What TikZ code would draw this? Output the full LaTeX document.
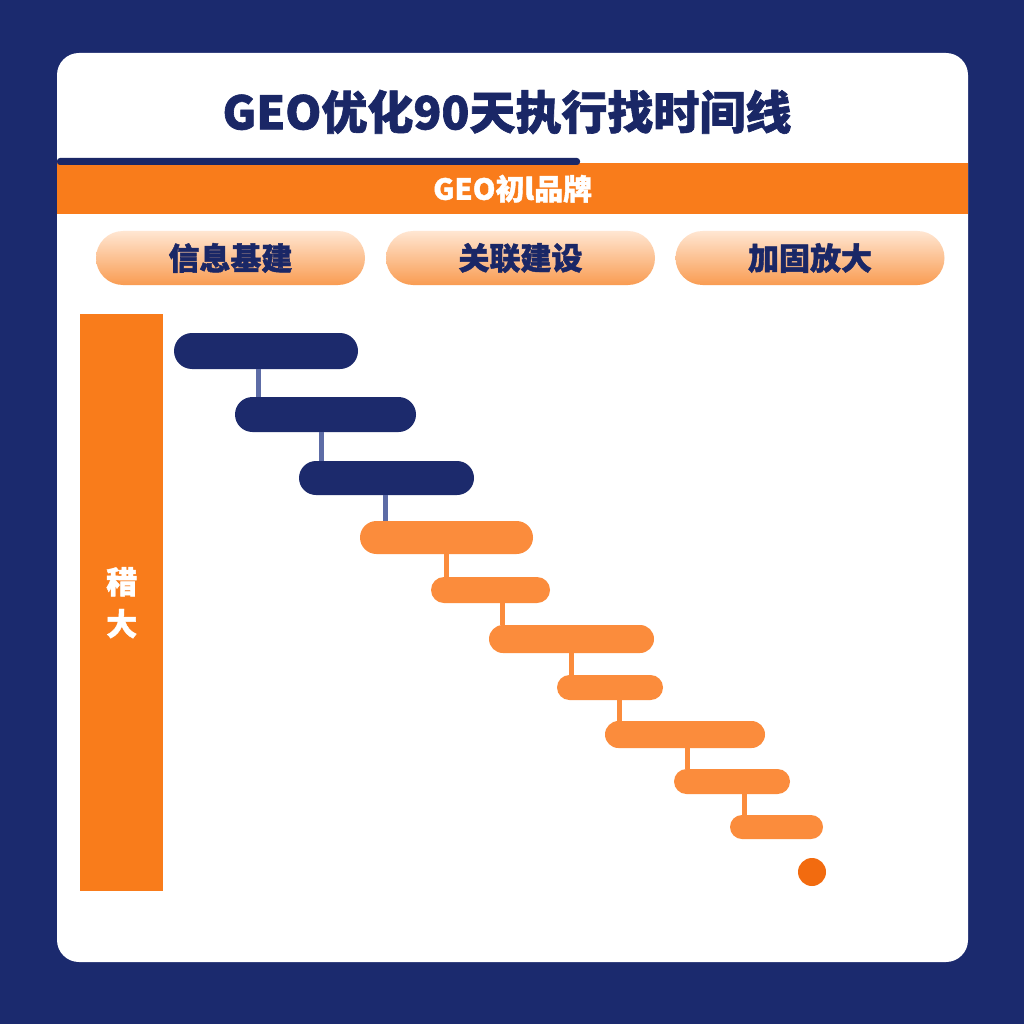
\documentclass[tikz,border=0pt]{standalone}
\usepackage{fontspec}
\newfontfamily\cjk{Noto Sans CJK SC}
\newfontfamily\cjkh{Noto Sans CJK SC}[BoldFeatures={FakeBold=1.4}]
\usetikzlibrary{shapes.misc,calc}
\definecolor{bgnavy}{HTML}{1B2A6E}
\definecolor{navy}{HTML}{1A2766}
\definecolor{barnavy}{HTML}{1C2A6C}
\definecolor{conblue}{HTML}{5D6CA6}
\definecolor{bannerorange}{HTML}{F97C1B}
\definecolor{barorange}{HTML}{FB8C3C}
\definecolor{dotorange}{HTML}{F26B0F}
\definecolor{pilllight}{HTML}{FFE6D2}
\definecolor{pilldark}{HTML}{F99C52}
\begin{document}
\begin{tikzpicture}[x=1pt,y=-1pt,
  pill/.style={rounded rectangle, inner sep=0pt, minimum width=269pt, minimum height=54pt,
    top color=pilllight, bottom color=pilldark, text=navy,
    font=\cjkh\bfseries\fontsize{31}{36}\selectfont},
  navybar/.style={rounded rectangle, inner sep=0pt, fill=barnavy},
  orbar/.style={rounded rectangle, inner sep=0pt, fill=barorange},
  navyconn/.style={draw=conblue, line width=5pt},
  orconn/.style={draw=barorange, line width=5pt}]
\useasboundingbox (0,0) rectangle (1024,1024);
\fill[bgnavy] (0,0) rectangle (1024,1024);
\fill[white, rounded corners=22pt] (57,53) rectangle (968,962);

\node[font=\cjkh\bfseries\fontsize{46}{52}\selectfont, text=navy] (title) at (507,112) {GEO优化90天执行找时间线};

\node[fill=bannerorange, minimum width=911pt, minimum height=51pt, inner sep=0pt, anchor=north west,
  text=white, font=\cjkh\bfseries\fontsize{29}{34}\selectfont] (banner) at (57,163) {GEO初l品牌};
\fill[navy, rounded corners=3pt] (57,158) rectangle (580,165);

\node[pill] (p1) at (230.5,258) {信息基建};
\node[pill] (p2) at (520.5,258) {关联建设};
\node[pill] (p3) at (810,258) {加固放大};

\node[fill=bannerorange, minimum width=83pt, minimum height=577pt, inner sep=0pt, anchor=north west,
  text=white, align=center, font=\cjkh\bfseries\fontsize{31}{42}\selectfont] (side) at (80,314) {稓\\大};

\node[navybar, minimum width=184pt, minimum height=36pt] (b1) at (266,351) {};
\node[navybar, minimum width=181pt, minimum height=35pt] (b2) at (325.5,414.5) {};
\node[navybar, minimum width=175pt, minimum height=34pt] (b3) at (386.5,478) {};
\node[orbar, minimum width=173pt, minimum height=33pt] (b4) at (446.5,537.5) {};
\node[orbar, minimum width=119pt, minimum height=26pt] (b5) at (490.5,590) {};
\node[orbar, minimum width=165pt, minimum height=28pt] (b6) at (571.5,639) {};
\node[orbar, minimum width=106pt, minimum height=25pt] (b7) at (610,687.5) {};
\node[orbar, minimum width=160pt, minimum height=27pt] (b8) at (685,734.5) {};
\node[orbar, minimum width=116pt, minimum height=25pt] (b9) at (732,781.5) {};
\node[orbar, minimum width=93pt, minimum height=24pt] (b10) at (776.5,827) {};
\node[circle, fill=dotorange, minimum size=28pt, inner sep=0pt] (dot) at (812,872) {};

\path ($(b2.west)+(24,0)$) coordinate (c2)
      ($(b3.west)+(23,0)$) coordinate (c3)
      ($(b4.west)+(26,0)$) coordinate (c4)
      ($(b5.west)+(16,0)$) coordinate (c5)
      ($(b6.west)+(14,0)$) coordinate (c6)
      ($(b7.west)+(15,0)$) coordinate (c7)
      ($(b8.west)+(15,0)$) coordinate (c8)
      ($(b9.west)+(14,0)$) coordinate (c9)
      ($(b10.west)+(15,0)$) coordinate (c10);
\draw[navyconn] (c2 |- b1.south) -- (c2 |- b2.north);
\draw[navyconn] (c3 |- b2.south) -- (c3 |- b3.north);
\draw[navyconn] (c4 |- b3.south) -- (c4 |- b4.north);
\draw[orconn] (c5 |- b4.south) -- (c5 |- b5.north);
\draw[orconn] (c6 |- b5.south) -- (c6 |- b6.north);
\draw[orconn] (c7 |- b6.south) -- (c7 |- b7.north);
\draw[orconn] (c8 |- b7.south) -- (c8 |- b8.north);
\draw[orconn] (c9 |- b8.south) -- (c9 |- b9.north);
\draw[orconn] (c10 |- b9.south) -- (c10 |- b10.north);
\end{tikzpicture}
\end{document}
